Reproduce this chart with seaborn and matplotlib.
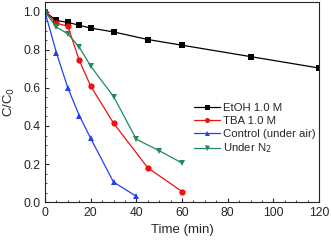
import pandas as pd
import matplotlib.pyplot as plt
import seaborn as sns

# values
t_etoh = [0, 5, 10, 15, 20, 30, 45, 60, 90, 120]
c_etoh = [1.0, 0.955, 0.945, 0.93, 0.915, 0.895, 0.855, 0.825, 0.765, 0.705]
t_tba = [0, 5, 10, 15, 20, 30, 45, 60]
c_tba = [1.0, 0.94, 0.925, 0.745, 0.61, 0.415, 0.18, 0.055]
t_ctrl = [0, 5, 10, 15, 20, 30, 40]
c_ctrl = [1.0, 0.785, 0.60, 0.455, 0.335, 0.105, 0.03]
t_n2 = [0, 5, 10, 15, 20, 30, 40, 50, 60]
c_n2 = [1.0, 0.92, 0.885, 0.815, 0.715, 0.555, 0.33, 0.27, 0.205]

labels = ["EtOH 1.0 M", "TBA 1.0 M", "Control (under air)", "Under N$_2$"]
colors = ["black", "#f01010", "#2040f0", "#1f8a5a"]
markers = ["s", "o", "^", "v"]

frames = []
for lab, t, c in zip(labels, [t_etoh, t_tba, t_ctrl, t_n2], [c_etoh, c_tba, c_ctrl, c_n2]):
    frames.append(pd.DataFrame({"Time": t, "C": c, "series": lab}))
df = pd.concat(frames, ignore_index=True)

sns.set_style("ticks")
plt.rcParams['font.family'] = ['Liberation Sans', 'DejaVu Sans']

fig, ax = plt.subplots(figsize=(3.31, 2.44), dpi=100)
sns.lineplot(data=df, x="Time", y="C", hue="series", style="series",
             palette=dict(zip(labels, colors)), markers=dict(zip(labels, markers)),
             dashes=False, markersize=4.5, linewidth=0.9, markeredgewidth=0,
             ax=ax)

ax.set_xlim(0, 120)
ax.set_ylim(0, 1.05)
ax.set_xticks(range(0, 121, 20))
ax.set_yticks([0, 0.2, 0.4, 0.6, 0.8, 1.0])
ax.set_yticklabels(["0.0", "0.2", "0.4", "0.6", "0.8", "1.0"])
ax.minorticks_on()
ax.tick_params(direction="in", which="both", labelsize=8.8, top=False, right=False)
ax.tick_params(which="major", length=3)
ax.tick_params(which="minor", length=1.5)
ax.set_xlabel("Time (min)", fontsize=9.5)
ax.set_ylabel("C/C$_0$", fontsize=9.5)
for s in ax.spines.values():
    s.set_linewidth(0.8)

ax.legend(title=None, frameon=False, fontsize=8.2, loc="center right",
          bbox_to_anchor=(1.025, 0.365), handlelength=2.25, handletextpad=0.27,
          labelspacing=0.25, markerscale=0.8)

plt.subplots_adjust(left=0.136, right=0.964, top=0.99, bottom=0.172)
fig.savefig("out.png", dpi=100)
